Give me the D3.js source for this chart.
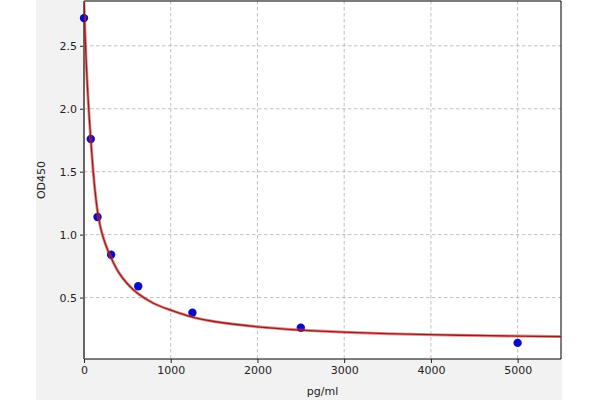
<!DOCTYPE html>
<html>
<head>
<meta charset="utf-8">
<script src="https://cdn.jsdelivr.net/npm/d3@7"></script>
<style>
  html, body { margin: 0; padding: 0; background: #fff; }
  svg { display: block; }
</style>
</head>
<body>
<div id="chart"></div>
<script>
// standard points (pg/ml, OD450)
const stdConc = [0, 78, 156, 312.5, 625, 1250, 2500, 5000];
const stdOD   = [2.72, 1.76, 1.14, 0.84, 0.59, 0.38, 0.26, 0.14];

// fitted curve
const fitConc = [0, 12, 25, 40, 58, 78, 104, 130, 160, 200, 250, 300, 400, 500, 625, 800, 1000, 1250, 1500, 2000, 2500, 3000, 3500, 4000, 4500, 5000, 5500];
const fitOD   = [2.85, 2.6, 2.38, 2.17, 1.96, 1.76, 1.52, 1.33, 1.17, 1.03, 0.92, 0.835, 0.70, 0.61, 0.53, 0.455, 0.40, 0.345, 0.31, 0.268, 0.242, 0.225, 0.213, 0.205, 0.199, 0.194, 0.19];

const xTicks = [0, 1000, 2000, 3000, 4000, 5000];
const yTicks = [0.5, 1.0, 1.5, 2.0, 2.5];

const width = 600, height = 400;
const margin = { top: 1, right: 39, bottom: 41, left: 84 };
const innerW = width - margin.left - margin.right;
const innerH = height - margin.top - margin.bottom;

const svg = d3.select("#chart").append("svg")
    .attr("width", width)
    .attr("height", height);

// gray figure background (cropped on the left)
svg.append("rect")
    .attr("x", 36).attr("y", 0)
    .attr("width", 526).attr("height", height)
    .attr("fill", "#f2f2f2");

const g = svg.append("g")
    .attr("transform", `translate(${margin.left},${margin.top})`);

const x = d3.scaleLinear().domain([0, 5500]).range([0, innerW]);
const y = d3.scaleLinear().domain([0.012, 2.856]).range([innerH, 0]);

g.append("rect")
    .attr("width", innerW).attr("height", innerH)
    .attr("fill", "#fff");

// grid
g.append("g").selectAll("line").data(xTicks.filter(d => d > 0)).join("line")
    .attr("x1", d => x(d)).attr("x2", d => x(d))
    .attr("y1", 0).attr("y2", innerH)
    .attr("stroke", "#b0b0b0").attr("stroke-width", 0.8)
    .attr("stroke-dasharray", "3.5,2.5");
g.append("g").selectAll("line").data(yTicks).join("line")
    .attr("x1", 0).attr("x2", innerW)
    .attr("y1", d => y(d)).attr("y2", d => y(d))
    .attr("stroke", "#b0b0b0").attr("stroke-width", 0.8)
    .attr("stroke-dasharray", "3.5,2.5");

// axes
const xAxis = g.append("g")
    .attr("transform", `translate(0,${innerH})`)
    .call(d3.axisBottom(x).tickValues(xTicks).tickSize(4).tickPadding(3).tickFormat(d3.format("d")));
const yAxis = g.append("g")
    .call(d3.axisLeft(y).tickValues(yTicks).tickSize(4).tickPadding(3).tickFormat(d3.format(".1f")));

[xAxis, yAxis].forEach(a => {
    a.select(".domain").remove();
    a.selectAll("text")
        .attr("font-family", "DejaVu Sans, sans-serif")
        .attr("font-size", 11)
        .attr("fill", "#222");
    a.selectAll("line").attr("stroke", "#222");
});

// spines
g.append("line").attr("x1", 0).attr("x2", innerW).attr("y1", 0).attr("y2", 0)
    .attr("stroke", "#000").attr("stroke-width", 1);
g.append("line").attr("x1", innerW).attr("x2", innerW).attr("y1", 0).attr("y2", innerH)
    .attr("stroke", "#000").attr("stroke-width", 1);
g.append("line").attr("x1", 0).attr("x2", innerW).attr("y1", innerH).attr("y2", innerH)
    .attr("stroke", "#000").attr("stroke-width", 1);
g.append("line").attr("x1", 0).attr("x2", 0).attr("y1", 0).attr("y2", innerH)
    .attr("stroke", "#666").attr("stroke-width", 2);

g.append("defs").append("clipPath").attr("id", "clip")
    .append("rect").attr("width", innerW).attr("height", innerH);

// points
g.append("g").selectAll("circle").data(stdConc).join("circle")
    .attr("cx", d => x(d))
    .attr("cy", (d, i) => y(stdOD[i]))
    .attr("r", 4.2)
    .attr("fill", "#0a0acc");

// fitted curve
const line = d3.line()
    .x((d, i) => x(fitConc[i]))
    .y(d => y(d))
    .curve(d3.curveCatmullRom.alpha(0.5));

const curve = g.append("g").attr("clip-path", "url(#clip)");
curve.append("path").datum(fitOD)
    .attr("d", line)
    .attr("fill", "none")
    .attr("stroke", "#e23b3b")
    .attr("stroke-opacity", 0.6)
    .attr("stroke-width", 3);
curve.append("path").datum(fitOD)
    .attr("d", line)
    .attr("fill", "none")
    .attr("stroke", "#7a1010")
    .attr("stroke-opacity", 0.85)
    .attr("stroke-width", 1.3);

// axis titles
svg.append("text")
    .attr("x", margin.left + x(2750))
    .attr("y", 395)
    .attr("text-anchor", "middle")
    .attr("font-family", "DejaVu Sans, sans-serif")
    .attr("font-size", 11)
    .attr("fill", "#222")
    .text("pg/ml");

svg.append("text")
    .attr("transform", `translate(45,${margin.top + innerH / 2}) rotate(-90)`)
    .attr("text-anchor", "middle")
    .attr("font-family", "DejaVu Sans, sans-serif")
    .attr("font-size", 11)
    .attr("fill", "#222")
    .text("OD450");
</script>
</body>
</html>
